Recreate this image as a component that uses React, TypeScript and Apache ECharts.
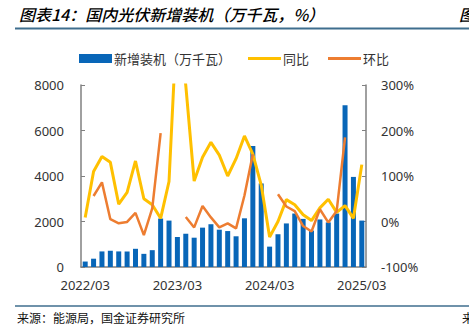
import React, { useEffect, useRef } from "react";
import * as echarts from "echarts";

const categories = [
  "2022/03", "2022/04", "2022/05", "2022/06", "2022/07", "2022/08", "2022/09", "2022/10", "2022/11", "2022/12",
  "2023/02", "2023/03", "2023/04", "2023/05", "2023/06", "2023/07", "2023/08", "2023/09", "2023/10", "2023/11", "2023/12",
  "2024/02", "2024/03", "2024/04", "2024/05", "2024/06", "2024/07", "2024/08", "2024/09", "2024/10", "2024/11", "2024/12",
  "2025/02", "2025/03",
];

const installs = [
  240, 365, 685, 714, 685, 680, 800, 578, 740, 2130,
  2040, 1320, 1462, 1288, 1730, 1880, 1640, 1580, 1350, 2140, 5320,
  3672, 895, 1440, 1915, 2350, 2115, 1600, 2090, 1960, 2350, 7110,
  3960, 2040,
];

const yoy = [
  9, 110, 143, 130, 38, 64, 133, 50, 37, 7,
  88, 466, 299, 89, 141, 174, 146, 100, 138, 188, 148,
  80, -34, 0, 48, 37, 15, 2, 30, 49, 20, 35,
  7, 125,
];

const mom = [
  null, 56, 86, 5, -4, -1, 19, -30, 29, 194,
  null, null, 10, -13, 34, 9, -13, -4, -15, 57, 148,
  null, null, 60, 33, 23, -10, -22, 27, -2, 23, 185,
  null, null,
];

const leftTicks = [0, 2000, 4000, 6000, 8000];
const rightTicks = [-100, 0, 100, 200, 300];

const FONT = "'Noto Sans', 'Noto Sans CJK SC', sans-serif";
const CJK = "'Noto Sans CJK SC', sans-serif";

export default function App() {
  const ref = useRef<HTMLDivElement>(null);
  useEffect(() => {
    if (!ref.current) return;
    const chart = echarts.init(ref.current, undefined, { renderer: "svg" });
    const axisColor = "#808080";
    const labelStyle = { color: "#333", fontSize: 13, fontFamily: FONT };
    const legendText = { ...labelStyle, fontFamily: CJK, padding: [0, 0, 0, -3] };
    chart.setOption({
      animation: false,
      backgroundColor: "#fff",
      textStyle: { fontFamily: FONT },
      grid: { left: 81, right: 103, top: 85, bottom: 60, containLabel: false },
      legend: [
        {
          left: 74, top: 47, itemWidth: 33, itemHeight: 9,
          data: [{ name: "新增装机（万千瓦）", icon: "rect" }],
          textStyle: legendText,
        },
        {
          left: 243, top: 47, itemWidth: 33, itemHeight: 3,
          data: [{ name: "同比", icon: "rect" }],
          textStyle: legendText,
        },
        {
          left: 323, top: 47, itemWidth: 33, itemHeight: 3,
          data: [{ name: "环比", icon: "rect" }],
          textStyle: legendText,
        },
      ],
      xAxis: {
        type: "category",
        data: categories,
        boundaryGap: true,
        axisLine: { lineStyle: { color: axisColor, width: 1.5 } },
        axisTick: { inside: true, interval: 10, length: 4, lineStyle: { color: axisColor } },
        axisLabel: { ...labelStyle, interval: 10, margin: 11 },
        splitLine: { show: false },
      },
      yAxis: [
        {
          type: "value",
          min: leftTicks[0],
          max: leftTicks[leftTicks.length - 1],
          interval: 2000,
          axisLine: { show: true, lineStyle: { color: axisColor, width: 1.5 } },
          axisTick: { show: true, inside: true, length: 4, lineStyle: { color: axisColor } },
          axisLabel: { ...labelStyle, margin: 17, formatter: (v: number) => String(v) },
          splitLine: { show: false },
        },
        {
          type: "value",
          min: rightTicks[0],
          max: rightTicks[rightTicks.length - 1],
          interval: 100,
          position: "right",
          axisLine: { show: true, lineStyle: { color: axisColor, width: 1.5 } },
          axisTick: { show: true, inside: true, length: 4, lineStyle: { color: axisColor } },
          axisLabel: { ...labelStyle, margin: 15, formatter: (v: number) => `${v}%` },
          splitLine: { show: false },
        },
      ],
      series: [
        {
          name: "新增装机（万千瓦）",
          type: "bar",
          data: installs,
          barWidth: 5,
          itemStyle: { color: "#0866B8" },
          yAxisIndex: 0,
        },
        {
          name: "同比",
          type: "line",
          data: yoy,
          yAxisIndex: 1,
          symbol: "none",
          clip: true,
          lineStyle: { color: "#FFC000", width: 3 },
          itemStyle: { color: "#FFC000" },
        },
        {
          name: "环比",
          type: "line",
          data: mom,
          yAxisIndex: 1,
          symbol: "none",
          connectNulls: false,
          clip: true,
          lineStyle: { color: "#ED7D31", width: 2.5 },
          itemStyle: { color: "#ED7D31" },
        },
      ],
      graphic: [
        {
          type: "text", left: 19, top: 6,
          style: { text: "图表14：国内光伏新增装机（万千瓦，%）", fill: "#000", font: `italic 500 16px ${CJK}` },
        },
        {
          type: "text", left: 459, top: 6,
          style: { text: "图", fill: "#000", font: `italic 500 16px ${CJK}` },
        },
        {
          type: "line", shape: { x1: 15, y1: 28.5, x2: 469, y2: 28.5 },
          style: { stroke: "#3F6E8E", lineWidth: 2 },
        },
        {
          type: "line", shape: { x1: 15, y1: 306, x2: 469, y2: 306 },
          style: { stroke: "#3F6E8E", lineWidth: 1.5 },
        },
        {
          type: "text", left: 17, top: 311,
          style: { text: "来源：能源局，国金证券研究所", fill: "#111", font: `12px ${CJK}` },
        },
        {
          type: "text", left: 462, top: 311,
          style: { text: "来", fill: "#111", font: `12px ${CJK}` },
        },
      ],
    });
    return () => chart.dispose();
  }, []);
  return (
    <div
      ref={ref}
      style={{ position: "fixed", left: 0, top: 0, width: 469, height: 327, background: "#fff" }}
    />
  );
}
